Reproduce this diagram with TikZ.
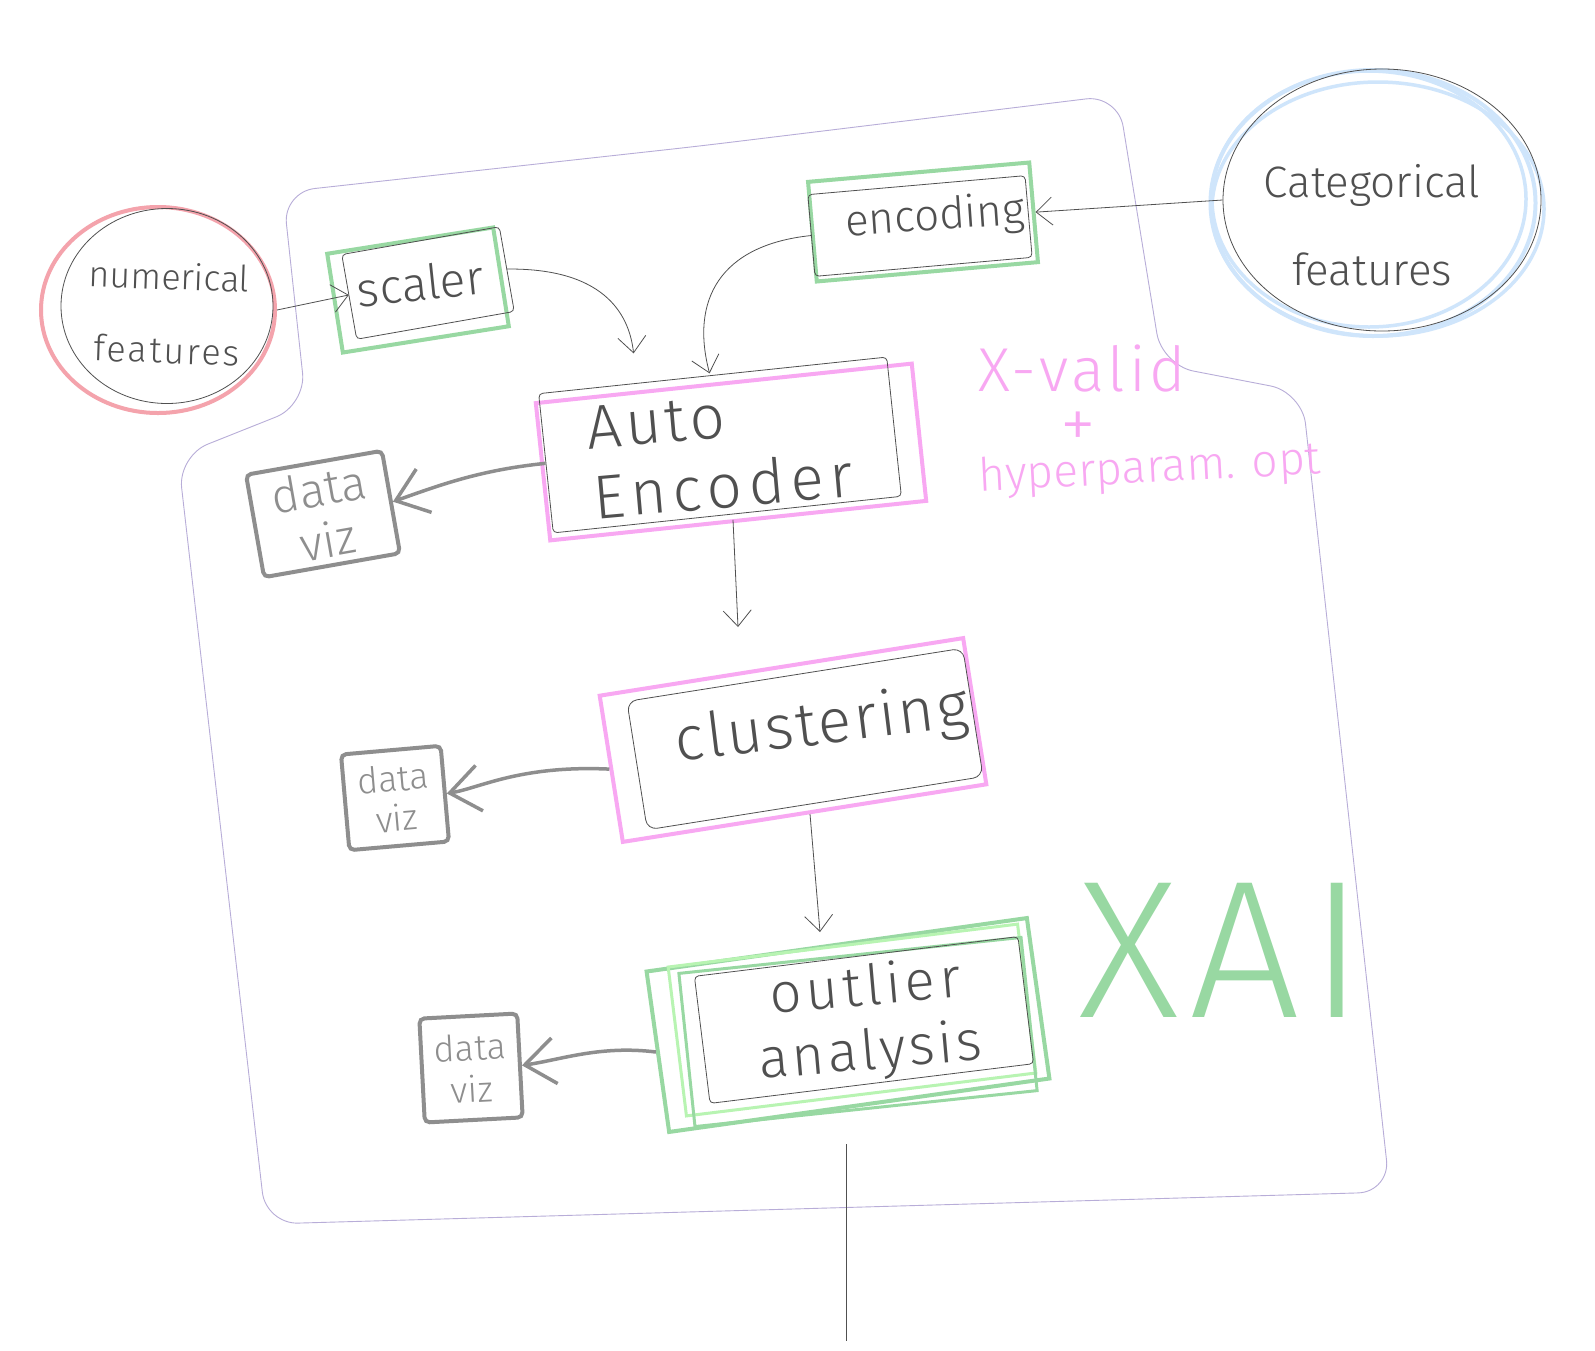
\documentclass[tikz,border=0pt]{standalone}
\usepackage{fontspec}
\setmainfont{Fira Sans}[UprightFont={* Light},BoldFont={* Light}]
\usetikzlibrary{arrows.meta,shapes.geometric,calc}
\definecolor{ink}{HTML}{505050}
\definecolor{pinkc}{HTML}{F8A8F2}
\definecolor{greenc}{HTML}{98D8A2}
\definecolor{lgreen}{HTML}{B8F4B2}
\definecolor{redc}{HTML}{F4A3AC}
\definecolor{bluec}{HTML}{CFE5FB}
\definecolor{vizc}{HTML}{8E8E8E}
\definecolor{framec}{HTML}{B8ADD8}
\tikzset{
  txt/.style={text=ink, align=center, inner sep=0pt},
  blk/.style={draw=ink, line width=0.8pt, rounded corners=4pt, inner sep=0pt},
  gbox/.style={draw=greenc, line width=4pt, inner sep=0pt},
  pbox/.style={draw=pinkc, line width=4pt, inner sep=0pt},
  vizbox/.style={draw=vizc, line width=4pt, rounded corners=5pt, text=vizc, align=center, inner sep=0pt},
  arr/.style={-{Straight Barb[length=16pt,width=28pt]}, draw=ink, line width=0.8pt},
  varr/.style={-{Straight Barb[length=30pt,width=46pt]}, draw=vizc, line width=3.5pt},
  oval/.style={ellipse, inner sep=0pt}
}
\begin{document}
\begin{tikzpicture}[x=1pt,y=-1pt]
\fill[white] (0,0) rectangle (1595,1350);
\useasboundingbox (0,0) rectangle (1595,1350);

% container outline
\draw[framec, line width=0.9pt, rounded corners=32pt]
  (700,146) -- (1118,95) -- (1162,365) -- (1302,392) -- (1390,1192)
  -- (266,1224) -- (178,456) -- (306,405) -- (283,192) -- cycle;

% numerical features
\node[oval, draw=redc, line width=4pt, minimum width=234pt, minimum height=206pt] (num) at (158,310) {};
\node[oval, draw=ink, line width=0.8pt, minimum width=212pt, minimum height=195pt] (numb) at (167,306) {};
\node[txt, font=\fontsize{36}{78}\selectfont, rotate=-2] (numt) at (168,313) {numerical\\[-4pt]\addfontfeature{LetterSpace=6}features};

% categorical features
\node[oval, draw=bluec, line width=4pt, minimum width=325pt, minimum height=266pt] (cat) at (1373,203) {};
\node[oval, draw=bluec, line width=3.5pt, minimum width=314pt, minimum height=256pt] (cat2) at (1369,199) {};
\node[oval, draw=bluec, line width=3.5pt, minimum width=332pt, minimum height=254pt] (cat3) at (1378,209) {};
\node[oval, draw=ink, line width=0.8pt, minimum width=318pt, minimum height=262pt] (catb) at (1382,200) {};
\node[txt, font=\fontsize{44}{88}\selectfont] (catt) at (1372,225) {Categorical\\features};

% scaler
\node[gbox, minimum width=168pt, minimum height=100pt, rotate=9] (scaler) at (418,290) {};
\node[blk, minimum width=160pt, minimum height=86pt, rotate=10] (scalerb) at (428,283) {};
\node[txt, font=\fontsize{48}{50}\selectfont, rotate=6] (scalert) at (420,283) {scaler};

% encoding
\node[gbox, minimum width=222pt, minimum height=100pt, rotate=5] (enc) at (923,222) {};
\node[blk, minimum width=218pt, minimum height=82pt, rotate=5] (encb) at (920,226) {};
\node[txt, font=\fontsize{44}{48}\selectfont, rotate=4] (enct) at (935,218) {encoding};

% Auto Encoder
\node[pbox, minimum width=378pt, minimum height=138pt, rotate=6] (ae) at (731,452) {};
\node[blk, minimum width=350pt, minimum height=140pt, rotate=6] (aeb) at (720,445) {};
\node[txt, align=left, font=\fontsize{62}{70}\selectfont, rotate=5] (aet) at (720,452) {\addfontfeature{LetterSpace=6}Auto\\\addfontfeature{LetterSpace=10}Encoder};

% X-valid text
\node[text=pinkc, font=\fontsize{62}{62}\selectfont, inner sep=0pt] (xv) at (1082,368) {\addfontfeature{LetterSpace=6}X-valid};
\node[text=pinkc, font=\fontsize{72}{72}\selectfont, inner sep=0pt] (plus) at (1078,430) {+};
\node[text=pinkc, font=\fontsize{46}{46}\selectfont, inner sep=0pt, rotate=3] (hyp) at (1150,470) {hyperparam. opt};

% data viz 1
\node[vizbox, minimum width=138pt, minimum height=104pt, rotate=10, font=\fontsize{48}{52}\selectfont] (dv1) at (323,514) {data\\viz};

% clustering
\node[pbox, minimum width=368pt, minimum height=148pt, rotate=9] (cl) at (793,740) {};
\node[blk, minimum width=340pt, minimum height=130pt, rotate=9, rounded corners=10pt] (clb) at (805,739) {};
\node[txt, font=\fontsize{62}{62}\selectfont, rotate=7] (clt) at (822,727) {\addfontfeature{LetterSpace=4}clustering};

% data viz 2
\node[vizbox, minimum width=100pt, minimum height=96pt, rotate=5, font=\fontsize{36}{40}\selectfont] (dv2) at (395,798) {data\\viz};

% outlier analysis
\node[draw=greenc, line width=4pt, inner sep=0pt, minimum width=384pt, minimum height=162pt, rotate=8] (out) at (848,1025) {};
\node[draw=lgreen, line width=3pt, inner sep=0pt, minimum width=352pt, minimum height=150pt, rotate=7] (out2) at (852,1020) {};
\node[draw=greenc, line width=3pt, inner sep=0pt, minimum width=344pt, minimum height=154pt, rotate=6] (out3) at (858,1032) {};
\node[blk, minimum width=326pt, minimum height=128pt, rotate=7] (outb) at (864,1020) {};
\node[txt, font=\fontsize{56}{64}\selectfont, rotate=5] (outt) at (868,1022) {\addfontfeature{LetterSpace=8}outlier\\\addfontfeature{LetterSpace=6}analysis};

% XAI
\node[text=greenc, font=\fontsize{196}{196}\selectfont, inner sep=0pt] (xai) at (1222,950) {\addfontfeature{LetterSpace=5}XAI};

% data viz 3
\node[vizbox, minimum width=98pt, minimum height=104pt, rotate=3, font=\fontsize{36}{42}\selectfont] (dv3) at (471,1068) {data\\viz};

% connector end points
\coordinate (aeout) at (733,520);
\coordinate (clin) at (738,627);
\coordinate (clout) at (810,814);
\coordinate (outin) at (820,932);
\coordinate (tailtop) at (846,1144);
\coordinate (tailend) at (846,1341);

% connectors
\draw[arr] (num.east) -- ([yshift=2pt]scalerb.west);
\draw[arr] (scalerb.east) .. controls (610,268) and (630,320) .. ([xshift=-90pt,yshift=28pt]ae.north);
\draw[arr] (encb.west) .. controls (720,245) and (690,300) .. ([xshift=-14pt,yshift=8pt]ae.north);
\draw[arr] (catb.west) -- (enc.east);
\draw[arr] (aeout) -- (clin);
\draw[arr] (clout) -- (outin);
\draw[varr] (aeb.west) .. controls (480,470) and (440,485) .. (dv1.east);
\draw[varr] (cl.west) .. controls (520,765) and (480,788) .. (dv2.east);
\draw[varr] (out.west) .. controls (600,1045) and (560,1060) .. (dv3.east);
\draw[ink, line width=0.8pt] (tailtop) -- (tailend);
\end{tikzpicture}
\end{document}
